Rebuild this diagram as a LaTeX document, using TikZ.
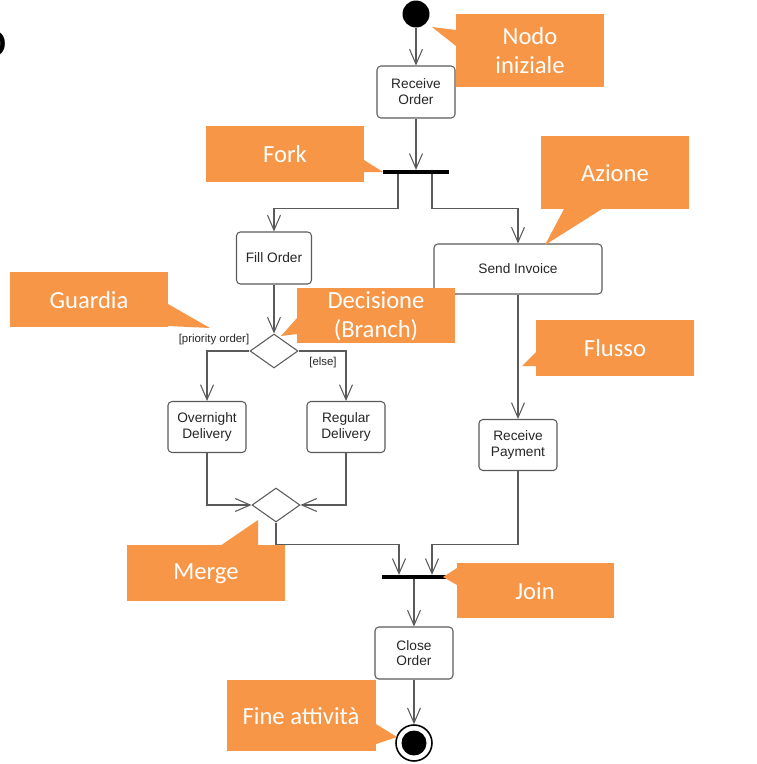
\documentclass[tikz,border=0pt]{standalone}
\usepackage{fontspec}
\setmainfont{Carlito}
\newfontfamily\umlfont{Liberation Sans}
\usetikzlibrary{arrows.meta,shapes.geometric,calc}
\definecolor{calloutorange}{HTML}{F79646}
\definecolor{flowgray}{HTML}{5A5A5A}
\tikzset{
  action/.style={draw=flowgray, line width=0.6pt, rounded corners=2.2pt, fill=white, align=center,
    inner sep=0pt, font=\umlfont\fontsize{7.8}{9}\selectfont, text=black!85},
  flow/.style={draw=flowgray, line width=0.6pt, -{Straight Barb[length=3mm,width=2.6mm]}},
  plainflow/.style={draw=flowgray, line width=0.6pt},
  branch/.style={diamond, draw=flowgray, line width=0.6pt, fill=white, inner sep=0pt,
    minimum width=0.96cm, minimum height=0.68cm},
  bar/.style={fill=black, inner sep=0pt, minimum height=0.07cm},
  guard/.style={font=\umlfont\fontsize{6.5}{7}\selectfont, text=black!85, inner sep=0pt},
  callout/.style={fill=calloutorange},
  calltext/.style={text=white, align=center, font=\fontsize{14}{16.5}\selectfont}
}
\begin{document}
\begin{tikzpicture}[x=0.02cm, y=-0.02cm]
  \useasboundingbox (0,0) rectangle (757,764);
  % cut off title letter
  \node[font=\fontsize{30}{30}\selectfont] (cutletter) at (-7,44) {o};

  % activity nodes
  \node[circle, fill=black, inner sep=0pt, minimum size=0.54cm] (start) at (416,14) {};
  \node[action, minimum width=1.56cm, minimum height=1.04cm] (recvorder) at (416,92) {Receive\\Order};
  \node[bar, minimum width=1.32cm] (fork) at (416,172) {};
  \node[action, minimum width=1.5cm, minimum height=1.04cm] (fillorder) at (274,258) {Fill Order};
  \node[action, minimum width=3.36cm, minimum height=1.0cm] (sendinv) at (518,269) {Send Invoice};
  \node[branch] (decide) at (274,351) {};
  \node[action, minimum width=1.56cm, minimum height=1.02cm] (overnight) at (207,427) {Overnight\\Delivery};
  \node[action, minimum width=1.56cm, minimum height=1.02cm] (regular) at (346,427) {Regular\\Delivery};
  \node[action, minimum width=1.56cm, minimum height=1.02cm] (recvpay) at (518,445) {Receive\\Payment};
  \node[branch] (merge) at (276,505) {};
  \node[bar, minimum width=1.3cm] (join) at (414,577) {};
  \node[action, minimum width=1.56cm, minimum height=1.04cm] (closeorder) at (414,653) {Close\\Order};
  \node[circle, draw=black, line width=0.9pt, minimum size=0.72cm, inner sep=0pt] (finish) at (414,743) {};
  \node[circle, fill=black, minimum size=0.5cm, inner sep=0pt] (finishdot) at (finish) {};

  % guards
  \node[guard] (prioguard) at (214,340) {[priority order]};
  \node[guard] (elseguard) at (323,363) {[else]};

  % flows
  \draw[flow] (start) -- (recvorder);
  \draw[flow] (recvorder) -- (fork);
  \draw[flow] (fork.south) ++(-18,0) -- ++(0,34) -| (fillorder.north);
  \draw[flow] (fork.south) ++(16,0) -- ++(0,34) -| (sendinv.north);
  \draw[flow] (fillorder) -- (decide);
  \draw[flow] (decide.west) -| (overnight.north);
  \draw[flow] (decide.east) -| (regular.north);
  \draw[flow] (overnight.south) |- (merge.west);
  \draw[flow] (regular.south) |- (merge.east);
  \draw[flow] (sendinv) -- (recvpay);
  \draw[flow] (merge.south) -- ++(0,22) -| ($(join.north)+(-15,0)$);
  \draw[flow] (recvpay.south) -- ++(0,73) -| ($(join.north)+(18,0)$);
  \draw[flow] (join) -- (closeorder);
  \draw[flow] (closeorder) -- (finish);

  % callouts
  \fill[callout] (456,14) rectangle (604,87);
  \fill[callout] (456,30) -- (432,27) -- (456,46) -- cycle;
  \node[calltext] (nodoini) at (530,51) {Nodo\\iniziale};

  \fill[callout] (206,126) rectangle (364,182);
  \fill[callout] (364,160) -- (383,172) -- (364,172) -- cycle;
  \node[calltext] (forklbl) at (285,154) {Fork};

  \fill[callout] (541,136) rectangle (689,209);
  \fill[callout] (564,209) -- (545,245) -- (602,209) -- cycle;
  \node[calltext] (azione) at (615,173) {Azione};

  \fill[callout] (10,272) rectangle (168,327);
  \fill[callout] (168,304) -- (210,328) -- (168,326) -- cycle;
  \node[calltext] (guardia) at (89,300) {Guardia};

  \fill[callout] (297,288) rectangle (455,343);
  \fill[callout] (297,318) -- (281,336) -- (297,334) -- cycle;
  \node[calltext] (decisione) at (376,316) {Decisione\\(Branch)};

  \fill[callout] (536,320) rectangle (694,376);
  \fill[callout] (536,352) -- (522,366) -- (536,366) -- cycle;
  \node[calltext] (flusso) at (615,348) {Flusso};

  \fill[callout] (127,545) rectangle (285,601);
  \fill[callout] (220,546) -- (258,520) -- (258,546) -- cycle;
  \node[calltext] (mergelbl) at (206,574) {Merge};

  \fill[callout] (457,563) rectangle (614,618);
  \fill[callout] (457,568) -- (443,577) -- (457,585) -- cycle;
  \node[calltext] (joinlbl) at (535,591) {Join};

  \fill[callout] (227,680) rectangle (376,751);
  \fill[callout] (376,724) -- (397,737) -- (376,744) -- cycle;
  \node[calltext] (fine) at (301,716) {Fine attività};
\end{tikzpicture}
\end{document}
